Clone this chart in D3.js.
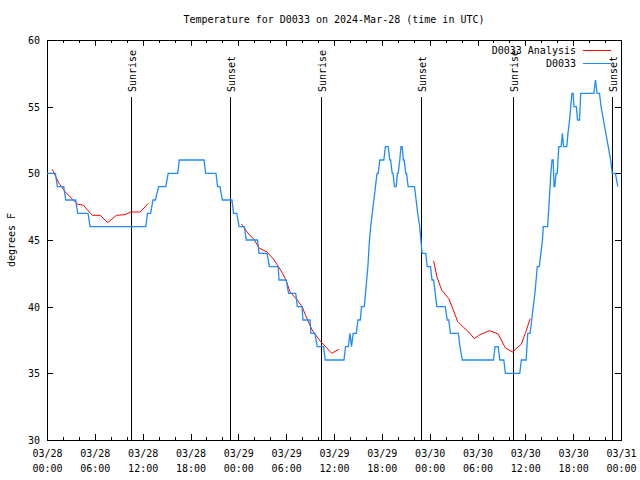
<!DOCTYPE html>
<html>
<head>
<meta charset="utf-8">
<script src="https://cdn.jsdelivr.net/npm/d3@7"></script>
<style>
  body { margin: 0; background: #fff; }
  svg { display: block; }
  text { font-family: "DejaVu Sans Mono", "Liberation Mono", monospace; font-size: 10px; fill: #000; }
</style>
</head>
<body>
<svg id="chart" width="640" height="480"></svg>
<script>
// ---------- DATA ----------
const titleText = "Temperature for D0033 on 2024-Mar-28 (time in UTC)";
const yLabel = "degrees F";
const startUTC = Date.UTC(2024, 2, 28, 0, 0);   // 03/28 00:00 UTC
const endHours = 72;                              // 03/31 00:00 UTC
const yTicks = [30, 35, 40, 45, 50, 55, 60];
const legendLabels = ["D0033 Analysis", "D0033"];
const seriesColors = ["#ff0000", "#1e8cff"];

// Sun events, hours since 03/28 00:00 UTC
const sunriseHours = [10.5, 34.4, 58.4];
const sunsetHours = [22.9, 46.9, 70.9];

// Station observations D0033: [hours since start, degrees F]
const stationObs = [
  [0,50],[1.05,50],[1.3,49],[2.1,49],[2.35,48],[3.6,48],[3.85,47],[5.15,47],[5.4,46],
  [12.4,46],[12.6,47],[13.0,47],[13.3,48],[13.6,48],[14.0,49],[14.9,49],[15.2,50],[16.4,50],
  [16.6,51],[19.7,51],[19.9,50],[21.2,50],[21.4,49],[21.7,49],[22.0,48],[23.2,48],[23.4,47],
  [23.8,47],[24.1,46],[24.75,46],[25.0,45],[26.4,45],[26.6,44],[27.6,44],[27.9,43],[29.0,43],
  [29.1,42],[30.0,42],[30.3,41],[31.2,41],[31.4,40],[32.0,40],[32.1,39],[33.0,39],[33.1,38],
  [33.6,38],[33.9,37],[34.7,37],[34.9,36],[37.25,36],[37.45,37],[37.8,37],[38.0,38],[38.2,37],
  [38.4,38],[38.8,38],[39.0,39],[39.3,39],[39.45,40],[39.8,40],[39.95,41],[40.1,42],[40.25,43],
  [40.35,44],[40.45,45],[40.6,46],[40.8,47],[41.0,48],[41.2,49],[41.4,50],[41.55,50],[41.75,51],
  [42.25,51],[42.45,52],[42.8,52],[43.0,51],[43.1,51],[43.3,50],[43.4,50],[43.6,49],[43.8,49],
  [43.95,50],[44.05,50],[44.25,51],[44.4,52],[44.55,52],[44.7,51],[44.8,51],[45.0,50],[45.1,50],
  [45.3,49],[46.1,49],[46.3,48],[46.5,47],[46.75,46],[46.9,45],[47.05,44],[47.5,44],[47.7,43],
  [48.1,43],[48.3,42],[48.5,42],[48.7,41],[48.9,40],[49.95,40],[50.2,39],[50.4,39],[50.6,38],
  [51.6,38],[51.8,37],[52.1,36],[56.0,36],[56.2,37],[56.6,37],[56.8,36],[57.3,36],[57.5,35],
  [59.3,35],[59.5,36],[60.1,36],[60.2,37],[60.3,38],[60.6,38],[60.8,39],[61.0,40],[61.2,41],
  [61.35,42],[61.5,43],[61.75,43],[61.95,44],[62.15,45],[62.25,46],[62.8,46],[62.9,47],[63.0,48],
  [63.1,49],[63.2,50],[63.35,51],[63.5,51],[63.6,49],[63.7,49],[63.85,50],[64.0,50],[64.1,51],
  [64.2,52],[64.5,52],[64.65,53],[64.8,52],[65.2,52],[65.35,53],[65.55,54],[65.7,55],[65.85,56],
  [66.0,56],[66.1,55],[66.4,55],[66.55,54],[66.8,54],[66.95,56],[68.6,56],[68.8,57],[69.0,56],
  [69.3,56],[69.5,55],[69.8,54],[70.1,53],[70.4,52],[70.7,51],[70.9,50],[71.3,50],[71.6,49]
];

// Analysis D0033: [hours since start, degrees F]; null marks a gap
const analysisSeries = [
  [0.67,50.3],[1.5,49.25],[2.3,48.6],[3.2,48.05],[3.8,47.7],[4.6,47.6],[5.0,47.3],[5.7,46.85],
  [6.7,46.85],[7.6,46.3],[8.7,46.85],[9.8,46.9],[10.5,47.1],[11.7,47.1],[12.7,47.75],
  null,
  [24.4,46.2],[25.1,45.6],[26.0,45.0],[26.6,44.4],[27.6,44.1],[28.5,43.5],[29.3,42.75],
  [29.9,42.1],[30.5,41.1],[31.4,40.5],[32.0,40.0],[32.4,39.4],[33.25,38.25],[34.3,37.4],
  [35.1,36.9],[35.7,36.5],[36.6,36.8],
  null,
  [48.5,43.45],[48.9,42.25],[49.5,41.25],[50.4,40.6],[50.8,40.0],[51.5,38.9],[52.25,38.45],
  [52.9,38.1],[53.6,37.6],[54.3,37.9],[55.5,38.2],[56.6,37.95],[57.5,36.9],[58.4,36.6],
  [59.5,37.2],[60.0,38.0],[60.6,39.1]
];

// ---------- CHART ----------
const toDate = h => new Date(startUTC + h * 3600000);
const L = 47, R = 621, T = 40, B = 440;
const svg = d3.select("#chart");

const x = d3.scaleUtc().domain([toDate(0), toDate(endHours)]).range([L, R]);
const y = d3.scaleLinear().domain([30, 60]).range([B, T]);

const majorX = d3.utcHour.every(6).range(toDate(0), toDate(endHours + 0.01));
const minorX = d3.utcHour.every(2).range(toDate(0), toDate(endHours + 0.01));

// minor ticks bottom/top
svg.append("g").attr("transform", `translate(0,${B})`)
  .call(d3.axisBottom(x).tickValues(minorX).tickSize(-3).tickFormat(""))
  .call(g => g.select(".domain").remove());
svg.append("g").attr("transform", `translate(0,${T})`)
  .call(d3.axisTop(x).tickValues(minorX).tickSize(-3).tickFormat(""))
  .call(g => g.select(".domain").remove());
// major ticks bottom with labels
const fmtDate = d3.utcFormat("%m/%d"), fmtTime = d3.utcFormat("%H:%M");
const xb = svg.append("g").attr("transform", `translate(0,${B})`)
  .call(d3.axisBottom(x).tickValues(majorX).tickSize(-6).tickPadding(0).tickFormat(""))
  .call(g => g.select(".domain").remove());
xb.selectAll(".tick").each(function(d) {
  const t = d3.select(this).append("text").attr("text-anchor", "middle").attr("fill", "#000");
  t.append("tspan").attr("x", 0).attr("y", 17).text(fmtDate(d));
  t.append("tspan").attr("x", 0).attr("y", 32).text(fmtTime(d));
});
svg.append("g").attr("transform", `translate(0,${T})`)
  .call(d3.axisTop(x).tickValues(majorX).tickSize(-6).tickFormat(""))
  .call(g => g.select(".domain").remove());

// y ticks
svg.append("g").attr("transform", `translate(${L},0)`)
  .call(d3.axisLeft(y).tickValues(yTicks).tickSize(-6).tickPadding(7).tickFormat(d3.format("d")))
  .call(g => g.select(".domain").remove())
  .call(g => g.selectAll("text").attr("fill", "#000").attr("dy", "0.35em"));
svg.append("g").attr("transform", `translate(${R},0)`)
  .call(d3.axisRight(y).tickValues(yTicks).tickSize(-6).tickFormat(""))
  .call(g => g.select(".domain").remove());

svg.selectAll(".tick line").attr("stroke", "#000").attr("shape-rendering", "crispEdges");
svg.selectAll("g").attr("font-family", null).attr("font-size", null);

// border
svg.append("rect").attr("x", L + 0.5).attr("y", T + 0.5)
  .attr("width", R - L).attr("height", B - T)
  .attr("fill", "none").attr("stroke", "#000").attr("shape-rendering", "crispEdges");

// sunrise / sunset
const sunEvents = sunriseHours.map(h => ({h, label: "Sunrise"}))
  .concat(sunsetHours.map(h => ({h, label: "Sunset"})));
const sg = svg.append("g");
sunEvents.forEach(ev => {
  const xp = Math.round(x(toDate(ev.h))) + 0.5;
  sg.append("line").attr("x1", xp).attr("x2", xp).attr("y1", 97).attr("y2", B)
    .attr("stroke", "#000").attr("shape-rendering", "crispEdges");
  sg.append("text").attr("transform", `translate(${xp + 4},92) rotate(-90)`)
    .attr("text-anchor", "start").text(ev.label);
});

// series
const line = d3.line()
  .defined(d => d !== null)
  .x(d => x(toDate(d[0])))
  .y(d => y(d[1]));

svg.append("path").datum(analysisSeries)
  .attr("d", line).attr("fill", "none").attr("stroke", seriesColors[0]).attr("stroke-width", 1);
svg.append("path").datum(stationObs)
  .attr("d", line).attr("fill", "none").attr("stroke", seriesColors[1]).attr("stroke-width", 1.3);

// legend
const lg = svg.append("g");
legendLabels.forEach((lab, i) => {
  const yy = 50 + i * 13;
  lg.append("text").attr("x", 576).attr("y", yy).attr("dy", "0.35em")
    .attr("text-anchor", "end").text(lab);
  lg.append("line").attr("x1", 583).attr("x2", 611).attr("y1", yy + 0.5).attr("y2", yy + 0.5)
    .attr("stroke", seriesColors[i]).attr("stroke-width", 1).attr("shape-rendering", "crispEdges");
});

// title and y label
svg.append("text").attr("x", (L + R) / 2).attr("y", 19).attr("dy", "0.35em")
  .attr("text-anchor", "middle").text(titleText);
svg.append("text").attr("transform", `translate(11,${(T + B) / 2}) rotate(-90)`)
  .attr("dy", "0.35em").attr("text-anchor", "middle").text(yLabel);
</script>
</body>
</html>
